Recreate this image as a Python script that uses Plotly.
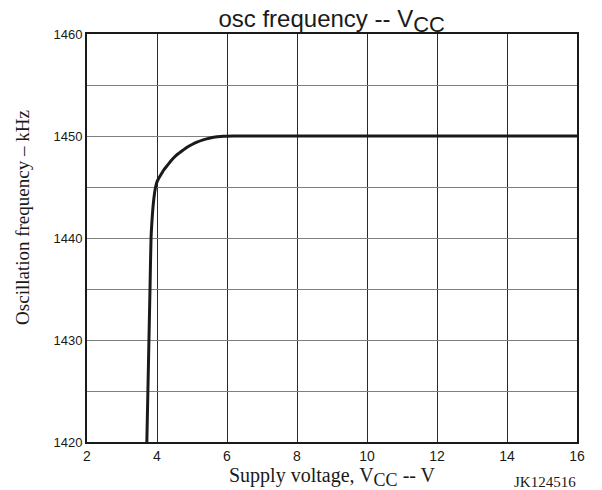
import plotly.graph_objects as go

vcc = [3.71, 3.74, 3.77, 3.80, 3.83, 3.855, 3.88, 3.905, 3.93, 3.96, 4.00, 4.05, 4.11, 4.20, 4.29, 4.42, 4.55, 4.70, 4.86, 5.00, 5.14, 5.32, 5.52, 5.72, 5.90, 6.2, 8.0, 10.0, 12.0, 14.0, 16.0]
freq = [1420, 1425, 1430, 1435, 1440, 1441.6, 1442.8, 1443.7, 1444.4, 1445.0, 1445.5, 1445.85, 1446.2, 1446.7, 1447.1, 1447.65, 1448.1, 1448.5, 1448.9, 1449.17, 1449.4, 1449.62, 1449.8, 1449.92, 1449.98, 1450, 1450, 1450, 1450, 1450, 1450]

x_ticks = [2, 4, 6, 8, 10, 12, 14, 16]
y_ticks = [1420, 1425, 1430, 1435, 1440, 1445, 1450, 1455, 1460]
y_labels = ["1420", "", "1430", "", "1440", "", "1450", "", "1460"]

SANS = "Liberation Sans, Arial"
SERIF = "Liberation Serif, Times New Roman"
INK = "#1a1a1a"

fig = go.Figure()
fig.add_trace(go.Scatter(x=vcc, y=freq, mode="lines",
                         line=dict(color=INK, width=3, shape="spline", smoothing=0.6),
                         showlegend=False))

fig.update_layout(
    width=602, height=490,
    margin=dict(l=87, r=25, t=34, b=48),
    paper_bgcolor="white", plot_bgcolor="white",
    title=dict(text="osc frequency -- V<sub><span style='font-size:22px'>CC</span></sub>",
               x=0.551, xanchor="center", y=0.962, yanchor="middle",
               font=dict(family=SANS, size=24, color=INK)),
    xaxis=dict(range=[2, 16], tickvals=x_ticks, ticktext=[str(v) for v in x_ticks],
               showgrid=True, gridcolor="#2a2a2a", gridwidth=1,
               showline=True, linecolor=INK, linewidth=2, mirror=True,
               ticks="", zeroline=False,
               tickfont=dict(family=SANS, size=14, color=INK),
               title=dict(text="Supply voltage, V<sub><span style='font-size:18px'>CC</span></sub> -- V",
                          standoff=0,
                          font=dict(family=SERIF, size=20, color=INK))),
    yaxis=dict(range=[1420, 1460], tickvals=y_ticks, ticktext=y_labels,
               showgrid=True, gridcolor="#808080", gridwidth=1,
               showline=True, linecolor=INK, linewidth=2, mirror=True,
               ticks="", zeroline=False,
               tickfont=dict(family=SANS, size=13, color=INK)),
    annotations=[
        dict(text="Oscillation frequency – kHz", xref="paper", yref="paper",
             x=-0.132, y=0.55, xanchor="center", yanchor="middle", textangle=-90,
             showarrow=False, font=dict(family=SERIF, size=19, color=INK)),
        dict(text="JK124516", xref="paper", yref="paper", x=1.002, y=-0.097,
             xanchor="right", yanchor="middle", showarrow=False,
             font=dict(family=SERIF, size=15, color=INK)),
    ],
)

fig.write_html("out.html")
